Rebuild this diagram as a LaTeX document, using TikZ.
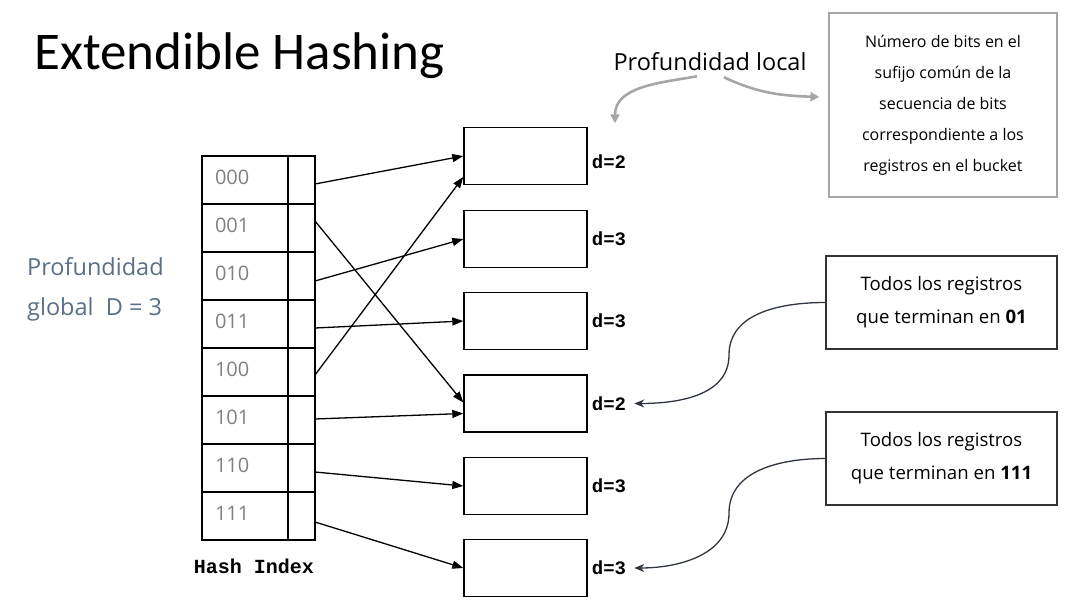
\documentclass[tikz,border=0pt]{standalone}
\usepackage{fontspec}
\setmainfont{Open Sans}
\setmonofont{Liberation Mono}
\newfontfamily\titlefont{Carlito}
\usepackage{tikz}
\usetikzlibrary{arrows.meta,positioning}
\definecolor{idxgray}{HTML}{7F7F7F}
\definecolor{globalblue}{HTML}{5A6E87}
\definecolor{notegray}{HTML}{A6A6A6}
\definecolor{notedark}{HTML}{2F3540}
\tikzset{
  cell/.style={rectangle, draw, line width=1.4pt, inner sep=0pt, outer sep=0pt, minimum height=48pt},
  idx/.style={cell, minimum width=86pt, text width=60pt, inner xsep=13pt, align=left, text depth=6pt, text=idxgray, font=\fontsize{20}{24}\selectfont},
  ptr/.style={cell, minimum width=27pt},
  bucket/.style={rectangle, draw, line width=1.4pt, minimum width=123pt, minimum height=57pt, inner sep=0pt},
  dlab/.style={anchor=west, inner sep=0pt, font=\fontsize{19}{22}\selectfont\ttfamily\bfseries},
  note/.style={rectangle, draw=black!80, line width=1.2pt, align=center, minimum width=231pt, minimum height=93pt, font=\fontsize{18.6}{33}\selectfont},
  arr/.style={-{Triangle[length=11pt, width=8pt]}, line width=1.3pt},
  darr/.style={-{Stealth[length=10pt, width=8pt]}, line width=1.3pt, draw=notedark},
  garr/.style={-{Triangle[length=9pt, width=9pt]}, line width=2.6pt, draw=notegray}
}
\begin{document}
\begin{tikzpicture}[x=1pt, y=-1pt]
\useasboundingbox (0,0) rectangle (1066,605);
\node[anchor=base west, inner sep=0pt, font=\titlefont\fontsize{53}{58}\selectfont] (title) at (34,69) {Extendible Hashing};
\node[anchor=west, inner sep=0pt, align=left, text=globalblue, font=\fontsize{23.5}{40}\selectfont] (glob) at (27,289) {Profundidad\\global~ D = 3};

% hash index
\node[idx] (r0) at (245,180) {000};
\node[idx, below=0pt of r0] (r1) {001};
\node[idx, below=0pt of r1] (r2) {010};
\node[idx, below=0pt of r2] (r3) {011};
\node[idx, below=0pt of r3] (r4) {100};
\node[idx, below=0pt of r4] (r5) {101};
\node[idx, below=0pt of r5] (r6) {110};
\node[idx, below=0pt of r6] (r7) {111};
\node[ptr, right=0pt of r0] (p0) {}; \node[ptr, right=0pt of r1] (p1) {};
\node[ptr, right=0pt of r2] (p2) {}; \node[ptr, right=0pt of r3] (p3) {};
\node[ptr, right=0pt of r4] (p4) {}; \node[ptr, right=0pt of r5] (p5) {};
\node[ptr, right=0pt of r6] (p6) {}; \node[ptr, right=0pt of r7] (p7) {};
\node[font=\fontsize{20}{24}\selectfont\ttfamily\bfseries, below=19pt of r7, xshift=9pt, inner sep=0pt] (hidx) {Hash Index};

% buckets
\node[bucket] (b1) at (525.5,156) {};
\node[bucket] (b2) at (525.5,239) {};
\node[bucket] (b3) at (525.5,321) {};
\node[bucket] (b4) at (525.5,403.5) {};
\node[bucket] (b5) at (525.5,486) {};
\node[bucket] (b6) at (525.5,568) {};
\node[dlab, right=4pt of b1, yshift=-6pt] (d1) {d=2};
\node[dlab, right=4pt of b2] (d2) {d=3};
\node[dlab, right=4pt of b3] (d3) {d=3};
\node[dlab, right=4pt of b4] (d4) {d=2};
\node[dlab, right=4pt of b5] (d5) {d=3};
\node[dlab, right=4pt of b6] (d6) {d=3};

\draw[arr] ([yshift=-4pt]p0.east) -- (b1.west);
\draw[arr] ([yshift=7pt]p1.east) -- ([yshift=1pt]b4.west);
\draw[arr] ([yshift=-5pt]p2.east) -- (b2.west);
\draw[arr] ([yshift=-4pt]p3.east) -- (b3.west);
\draw[arr] ([yshift=-3pt]p4.east) -- ([yshift=-21pt]b1.west);
\draw[arr] ([yshift=1pt]p5.east) -- ([yshift=-10pt]b4.west);
\draw[arr] ([yshift=-4pt]p6.east) -- (b5.west);
\draw[arr] ([yshift=-6pt]p7.east) -- (b6.west);

% notes
\node[font=\fontsize{23.5}{28}\selectfont, inner sep=0pt] (loc) at (710,62) {Profundidad local};
\node[note, draw=notegray, minimum width=228pt, minimum height=184pt, font=\fontsize{16}{31}\selectfont] (defn) at (943,105) {Número de bits en el\\sufijo común de la\\secuencia de bits\\correspondiente a los\\registros en el bucket};
\node[note] (n01) at (941.5,302.5) {Todos los registros\\que terminan en \textbf{01}};
\node[note] (n111) at (941.5,458.5) {Todos los registros\\que terminan en \textbf{111}};
\coordinate (k1) at (729,355);
\coordinate (k2) at (729,513);

\draw[garr] ([xshift=-13pt,yshift=-5pt]loc.south) to[out=190, in=90] ([xshift=-95pt,yshift=-52pt]loc.south);
\draw[garr] ([xshift=14pt,yshift=-6pt]loc.south) to[out=-25, in=178] ([xshift=-9pt,yshift=8pt]defn.west);
\draw[darr] (n01.west) to[out=180, in=90] (k1) to[out=-90, in=0] ([xshift=8pt]d4.east);
\draw[darr] (n111.west) to[out=180, in=90] (k2) to[out=-90, in=0] ([xshift=8pt]d6.east);
\end{tikzpicture}
\end{document}
